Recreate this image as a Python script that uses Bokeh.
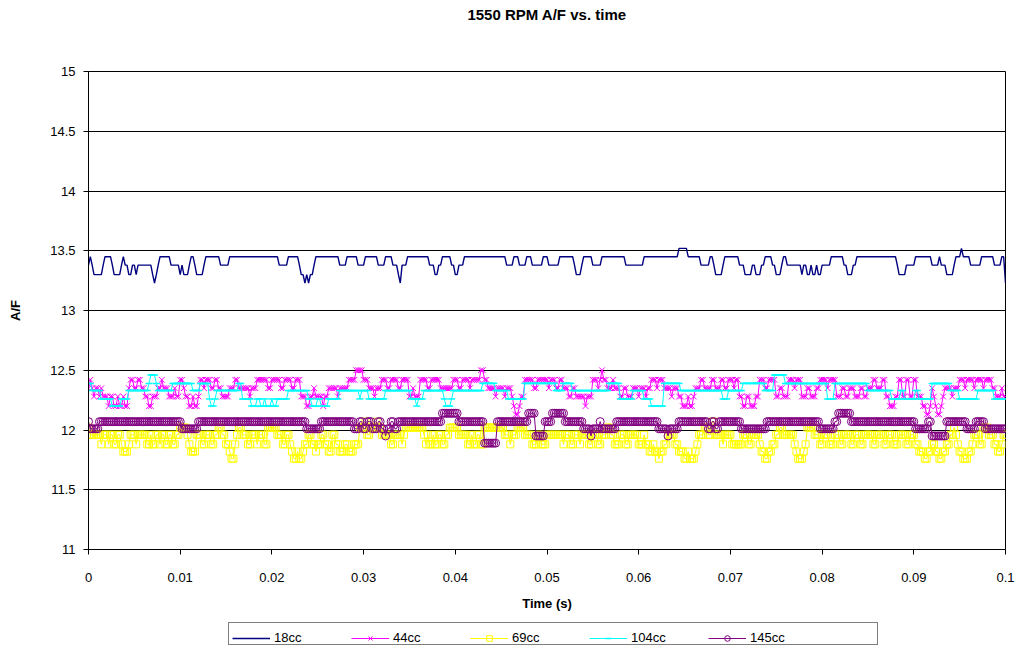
import numpy as np
from bokeh.plotting import figure
from bokeh.layouts import column
from bokeh.models import FixedTicker, Legend, LegendItem, Title
from bokeh.embed import file_html
from bokeh.resources import INLINE

# Logged A/F at 1550 RPM, one sample every 0.2 ms over 0.1 s.
# Each series is stored run-length encoded: (A/F value, consecutive samples).
SAMPLE_PERIOD = 0.0002

SERIES_NAMES = ["18cc", "44cc", "69cc", "104cc", "145cc"]

AF_18CC = [
    (13.38, 1), (13.45, 1), (13.38, 1), (13.30, 5), (13.38, 1), (13.45, 4), (13.38, 1), (13.30, 4),
    (13.38, 1), (13.45, 1), (13.38, 2), (13.30, 2), (13.38, 2), (13.30, 1), (13.38, 8), (13.30, 1),
    (13.23, 1), (13.30, 1), (13.38, 1), (13.45, 6), (13.38, 5), (13.30, 1), (13.38, 1), (13.30, 3),
    (13.38, 1), (13.45, 2), (13.38, 1), (13.30, 4), (13.38, 1), (13.45, 8), (13.38, 5), (13.45, 27),
    (13.38, 5), (13.45, 6), (13.38, 1), (13.30, 2), (13.23, 1), (13.30, 1), (13.23, 1), (13.30, 2),
    (13.38, 1), (13.45, 13), (13.38, 4), (13.45, 6), (13.38, 4), (13.45, 7), (13.38, 4), (13.45, 4),
    (13.38, 3), (13.30, 1), (13.23, 1), (13.38, 3), (13.45, 12), (13.38, 3), (13.30, 2), (13.38, 2),
    (13.45, 5), (13.38, 2), (13.30, 2), (13.38, 3), (13.45, 23), (13.38, 4), (13.45, 3), (13.38, 4),
    (13.45, 3), (13.38, 6), (13.45, 3), (13.38, 6), (13.45, 8), (13.38, 1), (13.30, 3), (13.38, 1),
    (13.45, 5), (13.38, 5), (13.45, 13), (13.38, 10), (13.45, 19), (13.52, 5), (13.45, 7), (13.38, 5),
    (13.45, 2), (13.38, 1), (13.30, 4), (13.38, 1), (13.45, 8), (13.38, 3), (13.30, 4), (13.38, 2),
    (13.30, 3), (13.38, 2), (13.45, 4), (13.38, 2), (13.30, 3), (13.38, 1), (13.45, 2), (13.38, 8),
    (13.30, 1), (13.38, 2), (13.30, 2), (13.38, 1), (13.30, 2), (13.38, 1), (13.30, 2), (13.38, 5),
    (13.45, 7), (13.38, 2), (13.30, 3), (13.38, 2), (13.45, 22), (13.38, 1), (13.30, 4), (13.38, 5),
    (13.45, 9), (13.38, 4), (13.45, 1), (13.38, 3), (13.30, 4), (13.38, 1), (13.45, 3), (13.52, 1),
    (13.45, 4), (13.38, 6), (13.45, 7), (13.38, 4), (13.45, 2), (13.23, 1),
]

AF_44CC = [
    (12.35, 1), (12.42, 1), (12.35, 1), (12.28, 1), (12.35, 2), (12.28, 1), (12.35, 1), (12.28, 1),
    (12.28, 2), (12.20, 1), (12.28, 2), (12.20, 2), (12.28, 1), (12.20, 2), (12.28, 1), (12.20, 2),
    (12.35, 1), (12.42, 2), (12.35, 2), (12.42, 2), (12.35, 2), (12.28, 2), (12.20, 2), (12.28, 3),
    (12.35, 2), (12.42, 1), (12.35, 3), (12.28, 3), (12.35, 1), (12.28, 2), (12.42, 2), (12.35, 1),
    (12.28, 2), (12.20, 2), (12.28, 1), (12.20, 2), (12.28, 1), (12.42, 2), (12.35, 1), (12.42, 3),
    (12.35, 2), (12.42, 2), (12.35, 2), (12.28, 4), (12.35, 3), (12.42, 2), (12.35, 2),
    (12.35, 4), (12.28, 1), (12.35, 3), (12.42, 2), (12.42, 4), (12.35, 2), (12.42, 5), (12.35, 2),
    (12.42, 4), (12.35, 2), (12.42, 3), (12.28, 3), (12.20, 2), (12.28, 2), (12.35, 1), (12.28, 2),
    (12.28, 2), (12.20, 1), (12.28, 2), (12.35, 5), (12.28, 1), (12.35, 5), (12.42, 4), (12.50, 4),
    (12.42, 3), (12.35, 3), (12.28, 1), (12.35, 3), (12.42, 3), (12.35, 2), (12.42, 4),
    (12.35, 2), (12.42, 4), (12.28, 2), (12.35, 1), (12.28, 3), (12.42, 4), (12.35, 2), (12.42, 5),
    (12.35, 2), (12.35, 5), (12.42, 3), (12.35, 2), (12.42, 4), (12.35, 1), (12.42, 3),
    (12.42, 2), (12.50, 2), (12.42, 2), (12.35, 4), (12.28, 1), (12.35, 4), (12.28, 1), (12.35, 3),
    (12.28, 1), (12.20, 1), (12.13, 2), (12.20, 1), (12.28, 2), (12.42, 5), (12.35, 2), (12.42, 6),
    (12.35, 1), (12.42, 3),
    (12.35, 2), (12.42, 2), (12.35, 3), (12.28, 2), (12.35, 2), (12.28, 2), (12.28, 3), (12.20, 1),
    (12.28, 3), (12.42, 3), (12.35, 1), (12.42, 1), (12.50, 1), (12.42, 2), (12.35, 3), (12.42, 1),
    (12.35, 3), (12.28, 2), (12.35, 2), (12.28, 3),
    (12.35, 3), (12.28, 1), (12.35, 3), (12.28, 1), (12.35, 2), (12.42, 3), (12.35, 1), (12.42, 3),
    (12.35, 4), (12.28, 1), (12.35, 3), (12.28, 2), (12.20, 3), (12.28, 1), (12.20, 2), (12.28, 1),
    (12.35, 3), (12.42, 2), (12.35, 4),
    (12.42, 2), (12.35, 3), (12.42, 2), (12.35, 2), (12.42, 3), (12.35, 1), (12.42, 2), (12.28, 2),
    (12.20, 2), (12.28, 2), (12.20, 3), (12.28, 2), (12.42, 3), (12.35, 2), (12.42, 4), (12.28, 2),
    (12.35, 2), (12.28, 3),
    (12.42, 3), (12.35, 1), (12.42, 3), (12.28, 3), (12.35, 2), (12.28, 3), (12.35, 2), (12.42, 4),
    (12.35, 1), (12.42, 4), (12.28, 3), (12.35, 2), (12.28, 2), (12.35, 3), (12.28, 3), (12.35, 2),
    (12.28, 2),
    (12.35, 3), (12.42, 2), (12.35, 3), (12.42, 2), (12.28, 2), (12.20, 3), (12.28, 2), (12.42, 2),
    (12.28, 2), (12.42, 2), (12.28, 2), (12.42, 2), (12.28, 3), (12.20, 2), (12.13, 2), (12.20, 1),
    (12.35, 1), (12.28, 1), (12.20, 1), (12.13, 2), (12.20, 1), (12.28, 1), (12.35, 4), (12.28, 1),
    (12.35, 3), (12.42, 3), (12.35, 1), (12.42, 4), (12.35, 1), (12.42, 4), (12.35, 1), (12.42, 4),
    (12.35, 2), (12.28, 3), (12.35, 1), (12.28, 2),
]

AF_69CC = [
    (12.02, 1), (11.96, 2), (11.96, 4), (11.88, 1), (11.96, 3), (11.88, 1), (11.96, 2), (11.88, 2),
    (11.96, 2), (11.88, 1), (11.82, 3), (11.88, 1), (11.96, 3), (11.88, 1), (11.96, 5), (11.88, 2),
    (11.96, 1), (11.88, 2), (11.96, 2), (11.88, 1), (11.96, 2),
    (11.88, 2), (11.96, 2), (11.88, 2), (11.96, 2), (12.02, 4), (11.96, 1), (11.88, 1), (11.82, 3),
    (11.96, 3), (11.88, 2), (11.96, 3), (11.88, 2), (11.96, 2), (12.02, 2), (11.96, 2), (11.88, 2),
    (11.82, 1), (11.76, 2), (11.88, 1), (11.96, 1), (12.02, 2),
    (11.96, 3), (11.88, 2), (11.96, 3), (11.88, 1), (11.96, 3), (11.88, 2), (12.02, 5), (11.96, 3),
    (11.88, 2), (11.96, 2), (11.88, 1), (11.82, 1), (11.76, 2), (11.82, 1), (11.76, 2), (11.82, 1),
    (11.88, 2), (11.96, 2), (11.88, 2), (11.82, 1), (11.88, 2),
    (11.96, 2), (11.88, 2), (11.82, 2), (11.96, 2), (11.88, 2), (11.82, 3), (11.88, 2), (11.82, 3),
    (11.88, 3), (12.02, 3), (12.07, 1), (11.96, 2), (12.02, 3), (12.07, 1), (12.02, 2), (11.96, 3),
    (11.96, 2), (11.88, 2), (11.96, 2),
    (11.96, 2), (11.88, 1), (11.96, 1), (12.02, 1), (12.02, 9), (11.96, 1), (11.88, 1), (11.96, 1),
    (11.88, 2), (11.96, 1), (11.88, 2), (11.96, 2), (11.88, 2), (11.96, 2), (12.02, 3), (12.02, 2),
    (11.96, 3), (11.96, 2), (11.88, 2), (11.96, 1), (11.88, 2),
    (11.96, 2), (11.88, 2), (12.02, 11), (11.96, 3), (11.88, 1), (11.96, 3), (12.02, 4), (11.96, 4),
    (11.88, 3), (11.96, 2), (11.88, 3), (11.96, 3), (11.96, 2),
    (11.96, 4), (11.88, 1), (11.96, 3), (11.88, 2), (11.96, 3), (11.88, 1), (11.96, 4), (11.88, 2),
    (11.96, 3), (11.88, 2), (11.96, 3), (12.02, 2), (11.96, 2), (11.88, 3), (11.96, 3), (11.88, 2),
    (11.96, 2),
    (11.96, 3), (11.88, 3), (11.96, 1), (11.88, 2), (11.82, 2), (11.88, 1), (11.82, 2), (11.76, 1),
    (11.82, 2), (11.88, 2), (11.96, 4), (11.88, 2), (11.82, 3), (11.76, 2), (11.82, 1), (11.76, 3),
    (11.82, 1), (11.88, 1), (11.96, 3), (12.02, 2), (11.96, 2),
    (12.07, 2), (11.96, 4), (11.88, 1), (11.96, 4), (11.88, 2), (11.88, 4), (11.96, 3), (11.88, 2),
    (11.96, 4), (11.88, 1), (11.82, 2), (11.76, 2), (11.82, 2), (11.88, 2), (11.96, 2), (12.02, 2),
    (11.96, 3),
    (11.96, 3), (11.88, 1), (11.82, 1), (11.76, 3), (11.82, 1), (11.88, 1), (12.02, 4), (11.96, 3),
    (11.88, 2), (11.96, 3), (11.88, 3), (11.96, 3), (11.88, 2), (11.96, 4), (11.88, 2), (11.96, 3),
    (11.88, 2), (11.96, 2),
    (11.96, 3), (11.88, 2), (11.96, 4), (11.88, 2), (11.96, 3), (11.88, 3), (11.96, 4), (11.88, 2),
    (11.96, 3), (11.88, 2), (11.82, 3), (11.76, 2), (11.82, 2), (11.88, 2), (11.82, 2), (11.76, 2),
    (11.82, 2),
    (11.88, 2), (11.96, 2), (12.02, 1), (11.96, 1), (11.88, 1), (11.82, 2), (11.76, 3), (11.82, 2),
    (11.88, 1), (11.96, 3), (11.88, 2), (12.02, 3), (11.96, 3), (11.88, 2), (11.82, 2), (11.88, 1),
    (11.96, 2),
]

AF_104CC = [
    (12.39, 2), (12.33, 5), (12.26, 6), (12.20, 5), (12.26, 4), (12.33, 11), (12.39, 1), (12.46, 3),
    (12.39, 1), (12.33, 4),
    (12.33, 4), (12.39, 11), (12.33, 4), (12.39, 5), (12.26, 1), (12.20, 2), (12.26, 1), (12.33, 12),
    (12.39, 2),
    (12.26, 5), (12.20, 3), (12.26, 2), (12.20, 2), (12.26, 1), (12.20, 3), (12.26, 1), (12.20, 2),
    (12.26, 6), (12.33, 11), (12.26, 2), (12.20, 3), (12.26, 2),
    (12.20, 4), (12.26, 6), (12.33, 7), (12.33, 4), (12.26, 1), (12.33, 4), (12.26, 9), (12.33, 7),
    (12.33, 7), (12.26, 3), (12.20, 1), (12.26, 3), (12.33, 11), (12.26, 1), (12.20, 3), (12.26, 1),
    (12.33, 13),
    (12.33, 3), (12.39, 7), (12.33, 7), (12.26, 9), (12.39, 17),
    (12.33, 4), (12.39, 5), (12.33, 20), (12.39, 6), (12.26, 7),
    (12.33, 6), (12.26, 4), (12.20, 7), (12.39, 9), (12.33, 17),
    (12.33, 6), (12.26, 3), (12.33, 8), (12.39, 12), (12.33, 5), (12.46, 6), (12.39, 2),
    (12.39, 21), (12.26, 4), (12.39, 18),
    (12.33, 13), (12.26, 5), (12.33, 2), (12.26, 6), (12.33, 2), (12.26, 7), (12.39, 8),
    (12.39, 2), (12.33, 5), (12.26, 10), (12.33, 9), (12.26, 7),
]

AF_145CC = [
    (12.07, 1), (12.01, 5), (12.07, 45), (12.01, 9), (12.07, 59), (12.01, 8), (12.07, 18),
    (12.01, 3), (12.07, 2), (12.01, 2), (12.07, 3), (12.01, 3), (12.07, 2), (12.01, 2), (11.95, 1),
    (12.01, 2), (12.07, 2), (12.01, 2),
    (12.07, 24), (12.14, 9), (12.07, 14), (11.89, 7), (12.07, 17), (12.14, 4), (11.95, 5),
    (12.07, 4), (12.14, 7), (12.07, 10),
    (12.01, 4), (11.95, 1), (12.01, 4), (12.07, 1), (12.01, 8),
    (12.07, 23), (12.01, 5), (11.95, 1), (12.01, 5), (12.07, 16),
    (12.01, 2), (12.07, 2), (12.01, 2), (12.07, 2),
    (12.07, 10), (12.01, 14), (12.07, 29), (12.01, 8), (12.07, 2), (12.14, 7), (12.07, 35),
    (12.01, 7), (12.07, 2), (11.95, 8), (12.07, 11), (12.01, 5), (12.07, 5), (12.01, 12),
]

Y_TICKS = [11, 11.5, 12, 12.5, 13, 13.5, 14, 14.5, 15]
Y_LABELS = ["11", "11.5", "12", "12.5", "13", "13.5", "14", "14.5", "15"]
X_TICKS = [0, 0.01, 0.02, 0.03, 0.04, 0.05, 0.06, 0.07, 0.08, 0.09, 0.1]
X_LABELS = ["0", "0.01", "0.02", "0.03", "0.04", "0.05", "0.06", "0.07", "0.08", "0.09", "0.1"]

# series styles: colour, marker (None = plain line), marker size
STYLES = [
    ("#000080", None, 0),
    ("#FF00FF", "x", 8),
    ("#FFFF00", "square", 7),
    ("#00FFFF", "dash", 7),
    ("#800080", "circle", 8),
]


def expand(runs):
    values = []
    for v, k in runs:
        values.extend([v] * k)
    return np.array(values)


def times(n):
    return np.arange(n) * SAMPLE_PERIOD


def draw_series(fig, x, y, color, marker, size):
    rs = [fig.line(x, y, line_color=color, line_width=1.4 if marker is None else 1)]
    if marker is not None:
        rs.append(fig.scatter(x, y, marker=marker, size=size, line_color=color, fill_color=None,
                              line_width=1.5 if marker == "dash" else 1))
    return rs


FONT = "Liberation Sans"

# ---- main chart -------------------------------------------------------------
p = figure(
    width=1021, height=616,
    x_range=(0, 0.1), y_range=(11, 15),
    output_backend="svg", toolbar_location=None,
    min_border_left=88, min_border_right=16, min_border_top=70, min_border_bottom=67,
)
p.background_fill_color = "white"
p.border_fill_color = "white"
p.outline_line_color = "black"
p.outline_line_width = 1

# spacer keeps the chart title clear of the plot frame
p.title.text = ""
p.add_layout(Title(text=" ", text_font_size="1px", standoff=43), "above")
p.add_layout(Title(text="1550 RPM A/F vs. time", align="center", text_font=FONT,
                   text_font_size="15px", text_font_style="bold", text_color="black",
                   standoff=6), "above")

p.xgrid.visible = False
p.ygrid.ticker = FixedTicker(ticks=Y_TICKS)
p.ygrid.grid_line_color = "black"
p.ygrid.grid_line_width = 1

p.yaxis.ticker = FixedTicker(ticks=Y_TICKS)
p.yaxis.major_label_overrides = {t: s for t, s in zip(Y_TICKS, Y_LABELS)}
p.xaxis.ticker = FixedTicker(ticks=X_TICKS)
p.xaxis.major_label_overrides = {t: s for t, s in zip(X_TICKS, X_LABELS)}

for ax in (p.xaxis[0], p.yaxis[0]):
    ax.axis_line_color = "black"
    ax.major_tick_line_color = "black"
    ax.major_tick_in = 0
    ax.major_tick_out = 5
    ax.minor_tick_line_color = None
    ax.major_label_text_font = FONT
    ax.major_label_text_font_size = "13px"
    ax.major_label_text_color = "black"
    ax.axis_label_text_font = FONT
    ax.axis_label_text_font_size = "13px"
    ax.axis_label_text_font_style = "bold"
    ax.axis_label_text_color = "black"

p.xaxis.axis_label = "Time (s)"
p.xaxis.major_label_standoff = 18
p.xaxis.axis_label_standoff = 11
p.yaxis.axis_label = "A/F"
p.yaxis.major_label_standoff = 8
p.yaxis.axis_label_standoff = 24

for runs, (color, marker, size) in zip([AF_18CC, AF_44CC, AF_69CC, AF_104CC, AF_145CC], STYLES):
    af = expand(runs)
    draw_series(p, times(len(af)), af, color, marker, size)

# ---- legend strip under the chart ------------------------------------------
# (its frame lines up with the chart frame inside the column)
leg = figure(
    width=1021, height=39, x_range=(0, 1), y_range=(0, 1),
    x_axis_type=None, y_axis_type=None,
    output_backend="svg", toolbar_location=None,
    min_border_left=88, min_border_right=16, min_border_top=0, min_border_bottom=0,
)
leg.grid.visible = False
leg.outline_line_color = None
leg.background_fill_color = "white"
leg.border_fill_color = "white"

items = []
for name, (color, marker, size) in zip(SERIES_NAMES, STYLES):
    # style-only proxies: a single undefined sample, so nothing is drawn in the strip itself
    proxy = draw_series(leg, [float("nan")], [float("nan")], color, marker, size)
    items.append(LegendItem(label=name, renderers=proxy))

LEGEND_TEXT = dict(label_text_font=FONT, label_text_font_size="13px", label_text_color="black")

# outer legend frame, a little wider than the entries it holds
ghost = leg.line([float("nan")], [float("nan")], line_alpha=0)
frame_box = Legend(
    items=[LegendItem(label="", renderers=[ghost])],
    location=(140, 10),
    glyph_width=642, glyph_height=14, label_standoff=0, label_width=0, label_height=15,
    padding=3, margin=0,
    border_line_color="black", border_line_width=1,
    background_fill_color="white", background_fill_alpha=1,
    **LEGEND_TEXT,
)
leg.add_layout(frame_box)

legend = Legend(
    items=items,
    orientation="horizontal",
    location=(144, 10),
    glyph_width=38, glyph_height=14,
    label_standoff=4, label_width=77, label_height=15, spacing=0,
    padding=3, margin=0,
    border_line_color=None, background_fill_alpha=0,
    **LEGEND_TEXT,
)
leg.add_layout(legend)

layout = column(p, leg, spacing=0)
open("out.html", "w").write(file_html(layout, INLINE))
